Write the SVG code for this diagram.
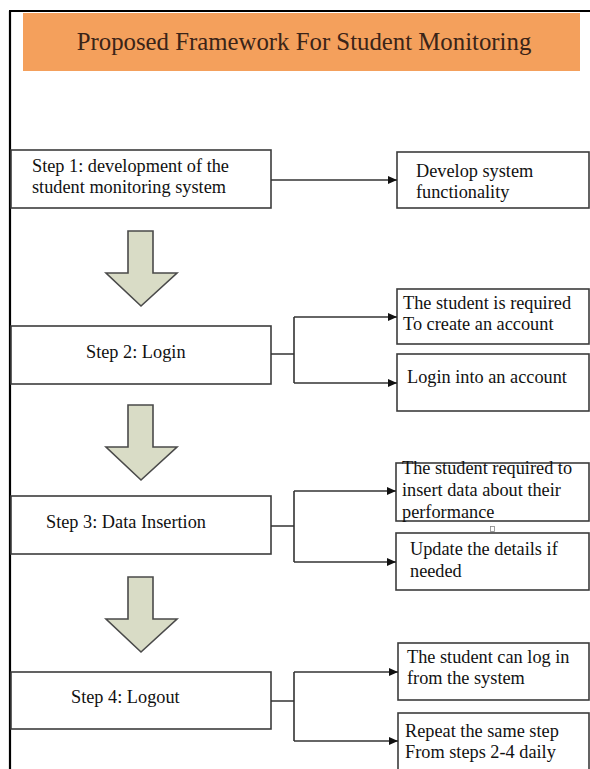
<svg xmlns="http://www.w3.org/2000/svg" width="590" height="769" viewBox="0 0 590 769">
<style>
.bx{fill:#fff;stroke:#3c3c3c;stroke-width:1.6}
.t{font-family:"Liberation Serif",serif;font-size:18.3px;fill:#111}
.ttl{font-family:"Liberation Serif",serif;font-size:24.8px;fill:#3a2418}
.ln{fill:none;stroke:#333;stroke-width:1.6}
.big{fill:#d9dcc6;stroke:#4a4a4a;stroke-width:1.6}
</style>
<defs>
<marker id="ah" markerWidth="9" markerHeight="8" refX="9" refY="4" orient="auto" markerUnits="userSpaceOnUse">
<path d="M0,0 L9,4 L0,8 Z" fill="#111"/>
</marker>
</defs>
<rect width="590" height="769" fill="#fff"/>
<g id="frame">
<line x1="10" y1="11" x2="10" y2="769" stroke="#000" stroke-width="2.2"/>
<line x1="9" y1="11" x2="590" y2="11" stroke="#000" stroke-width="2"/>
</g>
<g id="title">
<rect x="23" y="13" width="557" height="58" fill="#f4a05c"/>
<text class="ttl" x="304" y="50" text-anchor="middle">Proposed Framework For Student Monitoring</text>
</g>
<g id="step1">
<rect class="bx" x="11" y="150" width="260" height="58"/>
<text class="t" x="32" y="172">Step 1: development of the</text>
<text class="t" x="32" y="193">student monitoring system</text>
</g>
<g id="develop">
<rect class="bx" x="397" y="152" width="192" height="56"/>
<text class="t" x="416" y="177">Develop system</text>
<text class="t" x="416" y="198">functionality</text>
</g>
<g id="arrow1"><path class="big" d="M128,231 H153 V273 H177 L141,306 L106,273 H128 Z"/></g>
<g id="step2">
<rect class="bx" x="11" y="326" width="260" height="58"/>
<text class="t" x="86" y="358">Step 2: Login</text>
</g>
<g id="create">
<rect class="bx" x="397" y="289" width="192" height="55"/>
<text class="t" x="403" y="309">The student is required</text>
<text class="t" x="403" y="330">To create an account</text>
</g>
<g id="loginacc">
<rect class="bx" x="397" y="354" width="192" height="57"/>
<text class="t" x="407" y="383">Login into an account</text>
</g>
<g id="arrow2"><path class="big" d="M128,405 H153 V447 H177 L141,480 L106,447 H128 Z"/></g>
<g id="step3">
<rect class="bx" x="11" y="496" width="260" height="58"/>
<text class="t" x="46" y="528">Step 3: Data Insertion</text>
</g>
<g id="insert">
<rect class="bx" x="396" y="463" width="193" height="58"/>
<text class="t" x="402" y="474">The student required to</text>
<text class="t" x="402" y="496">insert data about their</text>
<text class="t" x="402" y="518">performance</text>
</g>
<rect x="490.5" y="526.5" width="4" height="5" fill="none" stroke="#888" stroke-width="0.8"/>
<g id="update">
<rect class="bx" x="396" y="533" width="193" height="57"/>
<text class="t" x="410" y="555">Update the details if</text>
<text class="t" x="410" y="577">needed</text>
</g>
<g id="arrow3"><path class="big" d="M128,577 H153 V619 H177 L141,652 L106,619 H128 Z"/></g>
<g id="step4">
<rect class="bx" x="11" y="672" width="260" height="57"/>
<text class="t" x="71" y="703">Step 4: Logout</text>
</g>
<g id="logout">
<rect class="bx" x="398" y="643" width="191" height="57"/>
<text class="t" x="407" y="663">The student can log in</text>
<text class="t" x="407" y="684">from the system</text>
</g>
<g id="repeat">
<rect class="bx" x="398" y="713" width="191" height="70"/>
<text class="t" x="405" y="737">Repeat the same step</text>
<text class="t" x="405" y="758">From steps 2-4 daily</text>
</g>
<g id="connectors">
<path class="ln" d="M271,180 H397" marker-end="url(#ah)"/>
<path class="ln" d="M271,354 H294 M294,317 V383"/>
<path class="ln" d="M294,317 H397" marker-end="url(#ah)"/>
<path class="ln" d="M294,383 H397" marker-end="url(#ah)"/>
<path class="ln" d="M271,526 H294 M294,491 V562"/>
<path class="ln" d="M294,491 H396" marker-end="url(#ah)"/>
<path class="ln" d="M294,562 H396" marker-end="url(#ah)"/>
<path class="ln" d="M271,701 H294 M294,672 V741"/>
<path class="ln" d="M294,672 H398" marker-end="url(#ah)"/>
<path class="ln" d="M294,741 H398" marker-end="url(#ah)"/>
</g>
</svg>
